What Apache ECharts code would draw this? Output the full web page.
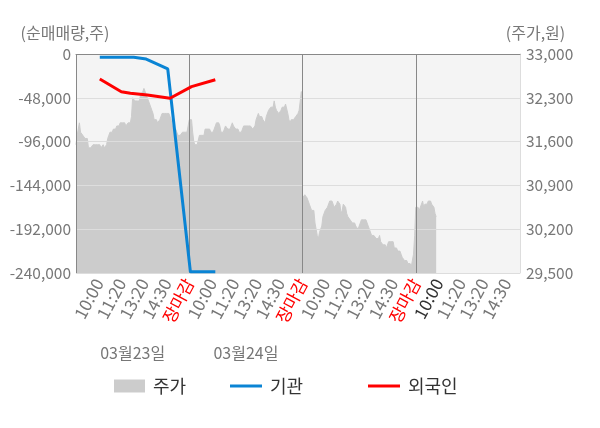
<!DOCTYPE html>
<html><head><meta charset="utf-8">
<script src="https://cdn.jsdelivr.net/npm/echarts@6/dist/echarts.min.js"></script>
<style>html,body{margin:0;padding:0;background:#fff}#c{width:600px;height:428px}</style>
</head><body><div id="c"></div>
<script>
// ---- data ----
const slotsPerDay = 100;
const totalSlots = 393;
const tickLabels = ['10:00', '11:20', '13:20', '14:30', '장마감'];
const dateLabels = ['03월23일', '03월24일'];
const leftAxis = { min: -240000, max: 0, interval: 48000 };
const rightAxis = { min: 29500, max: 33000, interval: 700 };

const priceDay1 = [
31550,31700,31700,31900,31750,31750,31700,31700,31650,31650,
31650,31500,31500,31500,31500,31550,31550,31550,31550,31550,
31550,31550,31500,31500,31550,31500,31500,31550,31650,31700,
31750,31750,31750,31800,31800,31800,31850,31850,31850,31900,
31900,31900,31900,31900,31850,31850,31900,31900,31900,32000,
32300,32300,32250,32250,32250,32250,32250,32350,32350,32400,
32450,32450,32350,32300,32300,32200,32150,32100,32050,31950,
31950,31950,31900,31900,31950,32000,32050,32050,32050,32050,
32050,32050,32050,32000,31950,31850,31800,31800,31800,31800,
31700,31700,31700,31700,31750,31750,31750,31750,31750,31750];
const priceDay2 = [
31950,31950,31950,31750,31600,31550,31550,31550,31550,31700,
31700,31700,31700,31700,31800,31800,31800,31800,31800,31750,
31750,31750,31750,31850,31900,31900,31900,31850,31750,31750,
31750,31800,31850,31850,31800,31800,31800,31850,31900,31850,
31850,31800,31800,31800,31750,31750,31750,31800,31850,31850,
31850,31850,31850,31850,31850,31850,31800,31800,31850,31950,
32000,32050,32000,32000,32000,31950,31950,31900,32000,32000,
32100,32100,32150,32150,32150,32250,32150,32100,32100,32050,
32050,32100,32150,32150,32150,32200,32200,32050,31950,31900,
31950,31950,31950,31950,32000,32000,32050,32100,32250,32400];
const priceDay3 = [
30700,30700,30750,30750,30700,30650,30600,30600,30500,30500,
30500,30300,30200,30100,30050,30150,30200,30250,30400,30400,
30500,30500,30550,30550,30650,30650,30650,30600,30550,30550,
30600,30650,30650,30600,30450,30500,30600,30600,30550,30450,
30400,30400,30350,30350,30300,30300,30300,30250,30250,30200,
30250,30300,30350,30350,30350,30350,30350,30300,30300,30200,
30200,30100,30100,30100,30100,30050,30050,30050,30100,30000,
30000,29950,29950,29950,29900,29900,30000,30000,30000,30000,
30000,29900,29900,29900,29850,29850,29850,29800,29750,29750,
29700,29700,29700,29650,29650,29650,29600,29600,29800,30100];
const priceDay4 = [30550,30550,30550,30500,30500,30600,30650,30550,30600,30600,
30600,30650,30650,30650,30600,30600,30550,30450,30400];

// investor net buying (slot index, value)
const instSlots = [21, 51, 62, 81, 101, 123];
const instValues = [-3600, -3600, -5500, -16400, -238600, -238600];
const forSlots = [21, 40, 48, 63, 83, 102, 123];
const forValues = [-27400, -41300, -43100, -44900, -48500, -35800, -28200];

// ---- build ----
const categories = [];
for (let i = 0; i < totalSlots; i++) categories.push(String(i));
const price = priceDay1.concat(priceDay2, priceDay3, priceDay4);
while (price.length < totalSlots) price.push(null);
const instData = instSlots.map((s, i) => [s, instValues[i]]);
const forData = forSlots.map((s, i) => [s, forValues[i]]);

const FONT = 'Noto Sans CJK KR';
const fmt = v => Number(v).toLocaleString('en-US');

function tickText(i) {
  const k = (i % slotsPerDay) / 20;
  return k === 0 ? tickLabels[4] : tickLabels[k - 1];
}
const legendText = { fontSize: 18, color: '#333', fontFamily: FONT, padding: [0, 0, 0, 3] };

const chart = echarts.init(document.getElementById('c'), null, { renderer: 'canvas' });
chart.setOption({
  animation: false,
  textStyle: { fontFamily: FONT },
  grid: { left: 76, right: 80, top: 54, bottom: 155, show: true, backgroundColor: '#f4f4f4', borderWidth: 0 },
  legend: [
    { data: ['주가'], left: 114, top: 377, padding: 0, icon: 'rect', itemWidth: 31, itemHeight: 13, textStyle: legendText },
    { data: ['기관'], left: 230, top: 377, padding: 0, icon: 'rect', itemWidth: 32, itemHeight: 3, textStyle: legendText },
    { data: ['외국인'], left: 368, top: 377, padding: 0, icon: 'rect', itemWidth: 32, itemHeight: 3, textStyle: legendText }
  ],
  xAxis: [
    {
      type: 'category', data: categories, boundaryGap: false, z: 3,
      axisLine: { lineStyle: { color: '#888', width: 1 } },
      axisTick: { interval: i => i % slotsPerDay === 0, length: 6, lineStyle: { color: '#888' } },
      splitLine: { show: true, interval: i => i % slotsPerDay === 0, lineStyle: { color: '#888', width: 1 } },
      axisLabel: {
        interval: i => i > 0 && i % 20 === 0,
        rotate: 62, margin: 7, fontSize: 17, fontFamily: FONT,
        formatter: (v) => tickText(Number(v)),
        color: (v) => {
          const i = Number(v);
          if (i % slotsPerDay === 0) return '#ff0000';
          if (i === 3 * slotsPerDay + 20) return '#333';
          return '#777';
        }
      }
    },
    {
      type: 'category', data: categories, boundaryGap: false, position: 'bottom', offset: 64,
      axisLine: { show: false }, axisTick: { show: false }, splitLine: { show: false },
      axisLabel: {
        interval: i => i % slotsPerDay === 50 && Math.floor(i / slotsPerDay) < dateLabels.length,
        formatter: v => dateLabels[Math.floor(Number(v) / slotsPerDay)] || '',
        fontSize: 16, color: '#777', fontFamily: FONT
      }
    }
  ],
  yAxis: [
    {
      type: 'value', position: 'left', z: 3,
      min: leftAxis.min, max: leftAxis.max, interval: leftAxis.interval,
      name: '(순매매량,주)', nameLocation: 'end', nameGap: 13,
      nameTextStyle: { color: '#777', fontSize: 16, fontFamily: FONT, padding: [0, 22, 0, 0] },
      axisLine: { show: false }, axisTick: { show: false },
      axisLabel: { margin: 5, fontSize: 15.5, color: '#777', fontFamily: FONT, formatter: fmt },
      splitLine: { show: true, lineStyle: { color: ['#ddd', '#ddd', '#ddd', '#ddd', '#ddd', '#999'], width: 1 } }
    },
    {
      type: 'value', position: 'right', z: 3,
      min: rightAxis.min, max: rightAxis.max, interval: rightAxis.interval,
      name: '(주가,원)', nameLocation: 'end', nameGap: 13,
      nameTextStyle: { color: '#777', fontSize: 16, fontFamily: FONT, padding: [0, 0, 0, 31] },
      axisLine: { show: true, lineStyle: { color: '#ddd' } }, axisTick: { show: false },
      axisLabel: { margin: 6, fontSize: 15.5, color: '#777', fontFamily: FONT, formatter: fmt },
      splitLine: { show: false }
    }
  ],
  series: [
    {
      name: '주가', type: 'line', xAxisIndex: 0, yAxisIndex: 1, data: price,
      showSymbol: false, z: 2, color: '#cccccc',
      lineStyle: { width: 1, color: '#cccccc' },
      itemStyle: { color: '#cccccc' },
      areaStyle: { color: '#cccccc', opacity: 1, origin: 'start' }
    },
    {
      name: '기관', type: 'line', xAxisIndex: 0, yAxisIndex: 0, data: instData,
      showSymbol: false, z: 5, color: '#0a84d4',
      lineStyle: { width: 3, color: '#0a84d4' }, itemStyle: { color: '#0a84d4' }
    },
    {
      name: '외국인', type: 'line', xAxisIndex: 0, yAxisIndex: 0, data: forData,
      showSymbol: false, z: 5, color: '#ff0000',
      lineStyle: { width: 3, color: '#ff0000' }, itemStyle: { color: '#ff0000' }
    }
  ]
});
</script>
</body></html>
